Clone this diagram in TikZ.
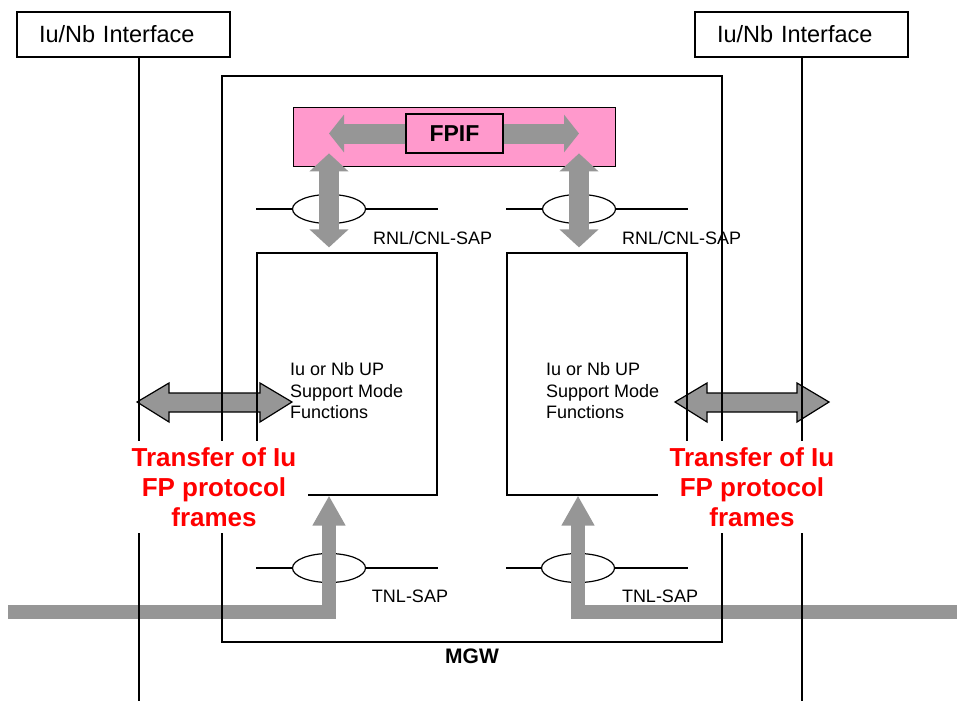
\documentclass[tikz,border=0pt]{standalone}
\usepackage{fontspec}
\setmainfont{Liberation Sans}
\usetikzlibrary{arrows.meta,positioning,shapes.geometric}

\definecolor{fppink}{RGB}{255,153,204}
\definecolor{fpgray}{RGB}{150,150,150}
\definecolor{fpred}{RGB}{255,0,0}

\tikzset{
  ifbox/.style={draw, line width=1.2pt, minimum height=45pt, text width=169pt,
    inner xsep=22pt, align=left, font=\fontsize{23.5}{27}\selectfont},
  ifline/.style={line width=1.2pt},
  upbox/.style={draw, line width=1.2pt, minimum width=180pt, minimum height=242pt},
  sapring/.style={draw, ellipse, line width=1.2pt, minimum width=73pt,
    minimum height=29pt, inner sep=0pt},
  sapline/.style={line width=1.2pt},
  saplabel/.style={font=\fontsize{18}{21.5}\selectfont, align=left, inner sep=0pt},
  redtext/.style={fill=white, text=fpred, font=\bfseries\fontsize{26}{30}\selectfont,
    align=center, inner xsep=12pt, inner ysep=6pt},
  fatarrow/.style={draw=black, fill=fpgray, line width=1.2pt, line join=miter},
  grayarr/.style={fpgray, line width=20pt,
    {Triangle[width=38pt,length=18pt]}-{Triangle[width=38pt,length=18pt]}},
  pinkarr/.style={fpgray, line width=20pt, -{Triangle[width=37pt,length=15pt]}},
  feed/.style={fpgray, line width=14pt, line join=miter,
    -{Triangle[width=31pt,length=30pt]}}
}

\begin{document}
\begin{tikzpicture}[x=1pt, y=-1pt]
\useasboundingbox (0,0) rectangle (957,701);

% transfer arrows
\draw [fatarrow] (137,402) -- (169,383) -- (169,393) -- (260,393) -- (260,383)
  -- (292,402) -- (260,422) -- (260,412) -- (169,412) -- (169,422) -- cycle;
\draw [fatarrow] (675,402) -- (707,383) -- (707,393) -- (797,393) -- (797,383)
  -- (829,402) -- (797,422) -- (797,412) -- (707,412) -- (707,422) -- cycle;

% support mode boxes
\node [upbox] (boxl) at (347,374) {};
\node [upbox] (boxr) at (597,374) {};

% FPIF
\node [draw, fill=fppink, line width=0.8pt, minimum width=322pt, minimum height=59pt] (fpbar) at (454,136.5) {};
\node [draw, line width=1.5pt, minimum width=97pt, minimum height=39pt,
  font=\bfseries\fontsize{23}{27}\selectfont] (fpif) at (454.5,133.5) {FPIF};

% SAPs
\node [sapring] (rnll) at (329,209) {};
\node [sapring] (rnlr) at (579,209) {};
\node [sapring] (tnll) at (329,568) {};
\node [sapring] (tnlr) at (578,568) {};
\draw [sapline] (boxl.west |- rnll) -- (rnll.west);
\draw [sapline] (rnll.east) -- (boxl.east |- rnll);
\draw [sapline] (boxr.west |- rnlr) -- (rnlr.west);
\draw [sapline] (rnlr.east) -- (boxr.east |- rnlr);
\draw [sapline] (boxl.west |- tnll) -- (tnll.west);
\draw [sapline] (tnll.east) -- (boxl.east |- tnll);
\draw [sapline] (boxr.west |- tnlr) -- (tnlr.west);
\draw [sapline] (tnlr.east) -- (boxr.east |- tnlr);

% gray arrows
\draw [pinkarr] (fpif.west) -- (fpif.west -| rnll);
\draw [pinkarr] (fpif.east) -- (fpif.east -| rnlr);
\draw [grayarr] ([yshift=13pt]fpbar.south -| rnll) -- ([yshift=5pt]boxl.north -| rnll);
\draw [grayarr] ([yshift=13pt]fpbar.south -| rnlr) -- ([yshift=5pt]boxr.north -| rnlr);

\coordinate (lin) at (8,612);
\coordinate (rin) at (957,612);
\draw [feed] (lin) -| (boxl.south -| tnll);
\draw [feed] (rin) -| (boxr.south -| tnlr);

% MGW and interfaces
\node [draw, line width=1.8pt, minimum width=500pt, minimum height=566pt] (mgw) at (472,359) {};
\node [ifbox] (ifl) at (123.5,34.5) {Iu/Nb Interface};
\node [ifbox] (ifr) at (801.5,34.5) {Iu/Nb Interface};
\coordinate (lfoot) at (139,701);
\coordinate (rfoot) at (802,701);
\draw [ifline] (ifl.south -| lfoot) -- (lfoot);
\draw [ifline] (ifr.south -| rfoot) -- (rfoot);

% labels
\node [redtext] (trl) at (214,487) {Transfer of Iu\\FP protocol\\frames};
\node [redtext] (trr) at (752,487) {Transfer of Iu\\FP protocol\\frames};

\node [saplabel, anchor=west] at (373,238) {RNL/CNL-SAP};
\node [saplabel, anchor=west] at (622,238) {RNL/CNL-SAP};
\node [saplabel] at (410,596) {TNL-SAP};
\node [saplabel] at (660,596) {TNL-SAP};
\node [saplabel, anchor=west] at (290,391) {Iu or Nb UP\\Support Mode\\Functions};
\node [saplabel, anchor=west] at (546,391) {Iu or Nb UP\\Support Mode\\Functions};

\node [below=2pt of mgw.south, font=\bfseries\fontsize{21}{25}\selectfont] {MGW};
\end{tikzpicture}
\end{document}
